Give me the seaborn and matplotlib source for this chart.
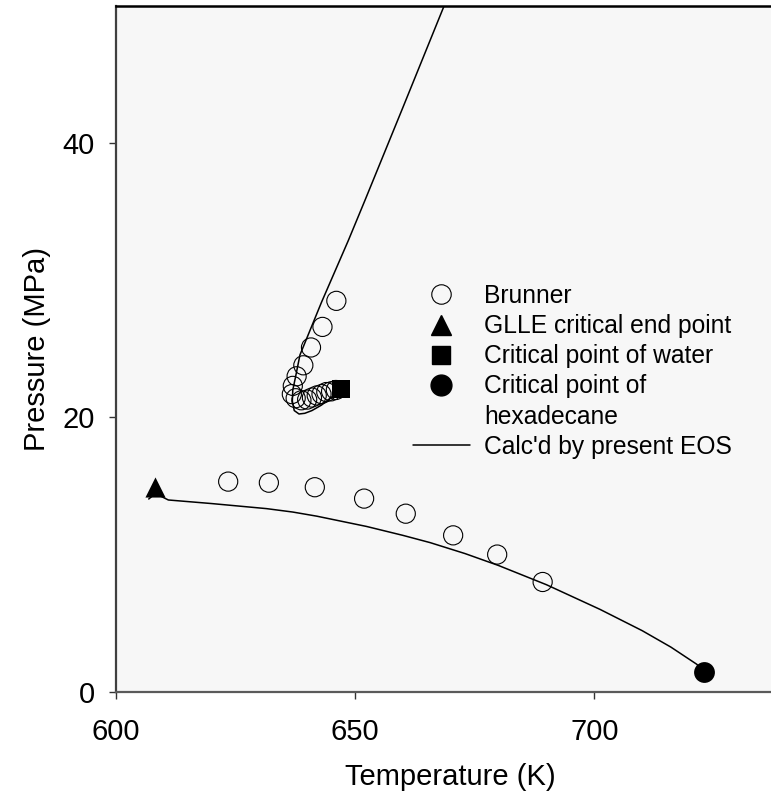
import matplotlib
matplotlib.use('Agg')
import matplotlib.pyplot as plt
import seaborn as sns
import pandas as pd
from matplotlib.lines import Line2D

# ---- data ----
brunner_T = [623.5, 632.0, 641.6, 651.9, 660.6, 670.5, 679.7, 689.2,
             646.0, 645.0, 644.0, 643.0, 642.0, 641.0, 640.0, 638.8, 637.6,
             636.8, 637.0, 637.8, 639.2, 640.8, 643.2, 646.1]
brunner_P = [15.32, 15.24, 14.91, 14.08, 12.98, 11.4, 10.0, 8.0,
             22.0, 21.9, 21.85, 21.7, 21.6, 21.45, 21.3, 21.25, 21.4,
             21.7, 22.3, 23.0, 23.8, 25.1, 26.6, 28.5]

cep_T = [608.2]
cep_P = [14.93]
water_T = [647.1]
water_P = [22.06]
hexadecane_T = [723.0]
hexadecane_P = [1.41]

eos_low_T = [606.9, 608.3, 611.0, 620.0, 631.5, 637.0, 642.0, 652.4, 660.0,
             665.7, 673.0, 680.0, 690.0, 701.2, 710.0, 716.0, 721.4, 723.0]
eos_low_P = [14.05, 14.45, 13.98, 13.72, 13.35, 13.1, 12.8, 12.05, 11.4,
             10.87, 10.07, 9.2, 7.8, 6.0, 4.45, 3.25, 2.0, 1.4]

eos_up_T = [647.1, 645.0, 643.0, 641.0, 639.5, 638.3, 637.3, 636.9, 637.0,
            637.6, 638.5, 643.0, 648.6, 652.1, 660.0, 668.6, 670.0]
eos_up_P = [22.06, 21.45, 20.9, 20.5, 20.3, 20.25, 20.5, 21.2, 22.0,
            23.0, 24.56, 28.4, 32.9, 35.85, 42.6, 50.0, 51.2]

x_ticks = [600, 650, 700]
y_ticks = [0, 20, 40]

legend_labels = ["Brunner", "GLLE critical end point", "Critical point of water",
                 "Critical point of", "hexadecane", "Calc'd by present EOS"]

# ---- style ----
sns.set_style('white')
plt.rcParams['font.family'] = ['Liberation Sans', 'DejaVu Sans']
plt.rcParams['text.color'] = 'black'
plt.rcParams['axes.labelcolor'] = 'black'

W, H = 771, 797
fig = plt.figure(figsize=(W / 100, H / 100), dpi=100)
x0, x1 = 115.7, 785.8
y0, y1 = 691.7, 6.0
ax = fig.add_axes([x0 / W, (H - y0) / H, (x1 - x0) / W, (y0 - y1) / H])
ax.set_facecolor('#f7f7f7')

low = pd.DataFrame({'T': eos_low_T, 'P': eos_low_P})
up = pd.DataFrame({'T': eos_up_T, 'P': eos_up_P})
sns.lineplot(data=low, x='T', y='P', sort=False, estimator=None,
             color='black', linewidth=1.1, ax=ax, zorder=2)
sns.lineplot(data=up, x='T', y='P', sort=False, estimator=None,
             color='black', linewidth=1.1, ax=ax, zorder=2)

sns.scatterplot(x=brunner_T, y=brunner_P, marker='o', s=190,
                facecolor='none', edgecolor='black', linewidth=0.8, ax=ax, zorder=3)
sns.scatterplot(x=cep_T, y=cep_P, marker='^', s=210, color='black',
                edgecolor='black', linewidth=0, ax=ax, zorder=4)
sns.scatterplot(x=water_T, y=water_P, marker='s', s=160, color='black',
                edgecolor='black', linewidth=0, ax=ax, zorder=4)
sns.scatterplot(x=hexadecane_T, y=hexadecane_P, marker='o', s=225, color='black',
                edgecolor='black', linewidth=0, ax=ax, zorder=4)

ax.set_xlim(600, 740)
ax.set_ylim(0, 50)
ax.set_xticks(x_ticks)
ax.set_yticks(y_ticks)
ax.set_xticklabels([str(v) for v in x_ticks])
ax.set_yticklabels([str(v) for v in y_ticks])
ax.tick_params(axis='both', direction='out', length=5, width=1.0, color='#333333',
               labelsize=21, labelcolor='black', bottom=True, left=True)
ax.tick_params(axis='x', pad=14)
ax.tick_params(axis='y', pad=10)

ax.spines['left'].set_color('#404040')
ax.spines['left'].set_linewidth(1.6)
ax.spines['bottom'].set_color('#5a5a5a')
ax.spines['bottom'].set_linewidth(1.6)
ax.spines['top'].set_color('black')
ax.spines['top'].set_linewidth(1.8)
ax.spines['top'].set_visible(True)
ax.spines['right'].set_visible(False)

ax.set_xlabel('Temperature (K)', fontsize=21, labelpad=12, color='black')
ax.set_ylabel('Pressure (MPa)', fontsize=21, labelpad=8, color='black')

handles = [
    Line2D([], [], linestyle='none', marker='o', markersize=14, markerfacecolor='none',
           markeredgecolor='black', markeredgewidth=0.8),
    Line2D([], [], linestyle='none', marker='^', markersize=14.5, color='black'),
    Line2D([], [], linestyle='none', marker='s', markersize=12.5, color='black'),
    Line2D([], [], linestyle='none', marker='o', markersize=15, color='black'),
    Line2D([], [], linestyle='none', marker=None),
    Line2D([], [], color='black', linewidth=1.1),
]
leg = ax.legend(handles, legend_labels, loc='upper left',
                bbox_to_anchor=(413 / W, (H - 284) / H), bbox_transform=fig.transFigure,
                frameon=False, fontsize=17.7, handlelength=2.3, handletextpad=0.6,
                labelspacing=0.25, borderpad=0, borderaxespad=0)
for t in leg.get_texts():
    t.set_color('black')

fig.savefig('out.png', dpi=100)
